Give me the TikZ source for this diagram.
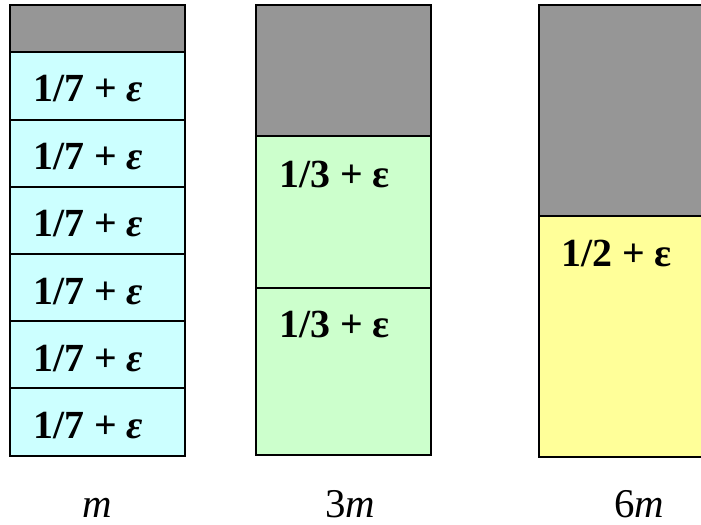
\documentclass[tikz,border=0pt]{standalone}
\usepackage{fontspec}
\setmainfont{Liberation Serif}
\definecolor{cgray}{RGB}{150,150,150}
\definecolor{ccyan}{RGB}{204,255,255}
\definecolor{cgreen}{RGB}{204,255,204}
\definecolor{cyellow}{RGB}{255,255,153}
\begin{document}
\begin{tikzpicture}[x=1bp,y=-1bp,
  cell/.style={draw=black,line width=2bp},
  val/.style={anchor=base west,inner sep=0pt,font=\fontsize{40}{46}\selectfont\bfseries},
  lab/.style={anchor=base,inner sep=0pt,text depth=0pt,font=\fontsize{41}{46}\selectfont}]
\useasboundingbox (0,0) rectangle (701,525);
\clip (0,0) rectangle (701,525);
% left column
\draw[cell,fill=cgray] (10,5) rectangle (185,52);
\foreach \t/\b in {52/120,120/187,187/254,254/321,321/388,388/456}{
  \draw[cell,fill=ccyan] (10,\t) rectangle (185,\b);
}
\foreach \t [count=\i] in {52,120,187,254,321,388}{
  \node[val] (l\i) at (33,\t+50) {1/7 + \textit{ε}};
}
% middle column
\draw[cell,fill=cgray] (256,5) rectangle (431,136);
\draw[cell,fill=cgreen] (256,136) rectangle (431,288);
\draw[cell,fill=cgreen] (256,288) rectangle (431,455);
\node[val] (c1) at (279,188) {1/3 + ε};
\node[val] (c2) at (279,337) {1/3 + ε};
% right column
\draw[cell,fill=cgray] (539,5) rectangle (740,216);
\draw[cell,fill=cyellow] (539,216) rectangle (740,457);
\node[val] (r1) at (561,267) {1/2 + ε};
% labels
\node[lab] (m1) at (97,517) {\textit{m}};
\node[lab] (m3) at (350,517) {3\textit{m}};
\node[lab] (m6) at (639,517) {6\textit{m}};
\end{tikzpicture}
\end{document}
